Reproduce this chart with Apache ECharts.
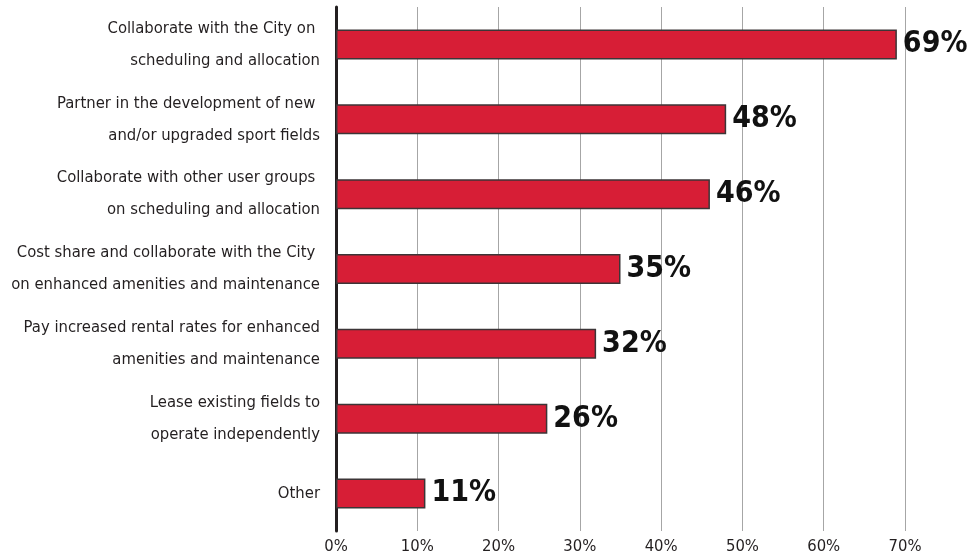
<!DOCTYPE html>
<html>
<head>
<meta charset="utf-8">
<script src="https://cdn.jsdelivr.net/npm/echarts@6/dist/echarts.min.js"></script>
<style>
  html, body { margin: 0; padding: 0; background: #ffffff; }
  #chart { width: 976px; height: 556px; }
</style>
</head>
<body>
<div id="chart"></div>
<script>
// Survey responses, listed top to bottom
const categories = [
  'Collaborate with the City on \nscheduling and allocation',
  'Partner in the development of new \nand/or upgraded sport fields',
  'Collaborate with other user groups \non scheduling and allocation',
  'Cost share and collaborate with the City \non enhanced amenities and maintenance',
  'Pay increased rental rates for enhanced\namenities and maintenance',
  'Lease existing fields to\noperate independently',
  'Other'
];
const percentValues = [69, 48, 46, 35, 32, 26, 11];
const tickLabels = ['0%', '10%', '20%', '30%', '40%', '50%', '60%', '70%'];

const FONT = '"DejaVu Sans Condensed", "Liberation Sans Narrow", "Roboto", sans-serif';

const chart = echarts.init(document.getElementById('chart'), null, { renderer: 'canvas' });

chart.setOption({
  animation: false,
  backgroundColor: '#ffffff',
  grid: {
    left: 336, right: 71, top: 7, bottom: 25,
    containLabel: false,
    outerBoundsMode: 'none'
  },
  xAxis: {
    type: 'value',
    min: 0,
    max: 70,
    interval: 10,
    axisLine: { show: false },
    axisTick: { show: false },
    splitLine: { show: true, lineStyle: { color: '#a6a6a6', width: 1 } },
    axisLabel: {
      margin: 7,
      fontFamily: FONT,
      fontSize: 16.5,
      color: '#231f20',
      formatter: (v) => tickLabels[Math.round(v / 10)]
    }
  },
  yAxis: {
    type: 'category',
    inverse: true,
    data: categories,
    axisLine: { show: true, lineStyle: { color: '#231f20', width: 3 } },
    axisTick: { show: false },
    axisLabel: {
      margin: 16,
      fontFamily: FONT,
      fontSize: 16.5,
      lineHeight: 32,
      color: '#231f20',
      align: 'right'
    }
  },
  series: [{
    type: 'bar',
    data: percentValues,
    barWidth: 30,
    z: 1,
    itemStyle: {
      color: '#d71e36',
      borderColor: '#3c3537',
      borderWidth: 1.5
    },
    label: {
      show: true,
      position: 'right',
      distance: 6,
      fontFamily: FONT,
      fontWeight: 'bold',
      fontSize: 30,
      color: '#111111',
      formatter: (p) => p.value + '%'
    }
  }]
});
</script>
</body>
</html>
